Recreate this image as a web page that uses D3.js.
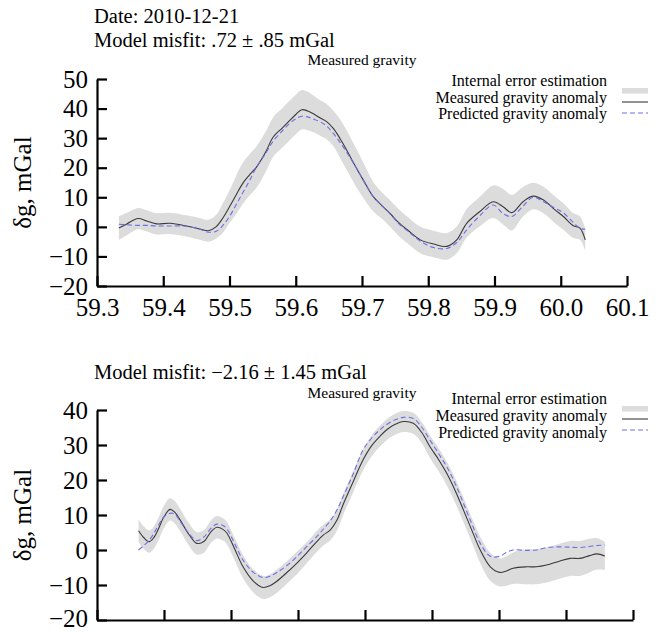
<!DOCTYPE html>
<html>
<head>
<meta charset="utf-8">
<script src="https://cdn.jsdelivr.net/npm/d3@7"></script>
<style>
  body { margin: 0; background: #fff; }
  svg { display: block; font-family: "Liberation Serif", "DejaVu Serif", serif; }
</style>
</head>
<body>
<svg id="chart" width="658" height="632"></svg>
<script>
// ---- data ----

// top profile (2010-12-21)
const topLon = [59.333, 59.345, 59.362, 59.375, 59.39, 59.41, 59.435, 59.455, 59.468, 59.48,
  59.49, 59.50, 59.51, 59.52, 59.53, 59.541, 59.555, 59.566, 59.58, 59.591,
  59.60, 59.609, 59.618, 59.626, 59.637, 59.647, 59.657, 59.667, 59.677, 59.69,
  59.702, 59.717, 59.73, 59.742, 59.755, 59.77, 59.788, 59.808, 59.828, 59.843,
  59.858, 59.878, 59.898, 59.913, 59.926, 59.943, 59.958, 59.974, 59.99, 60.004,
  60.019, 60.029, 60.037];
const topMeasured = [-0.4, 1.0, 2.8, 2.0, 1.0, 1.2, 0.3, -0.7, -1.3, 0.1,
  3.0, 6.8, 10.8, 14.7, 17.5, 20.3, 25.5, 30.4, 33.5, 36.0,
  38.0, 39.6, 39.2, 38.3, 36.8, 35.5, 33.2, 29.8, 25.9, 20.5,
  15.8, 10.2, 7.2, 4.6, 1.5, -1.3, -4.4, -5.8, -6.6, -4.4,
  1.2, 5.2, 8.5, 6.8, 4.8, 8.5, 10.4, 9.1, 6.0, 3.5,
  0.4, -0.4, -4.4];
const topPredicted = [0.9, 0.7, 0.5, 0.5, 0.3, 0.3, 0.2, -0.8, -1.8, -1.5,
  0.5, 3.5, 7.5, 11.5, 15.5, 20.3, 25.0, 29.0, 32.5, 35.0,
  36.5, 37.4, 37.2, 36.5, 35.5, 34.0, 31.5, 28.5, 25.2, 20.5,
  15.8, 10.2, 7.2, 4.5, 1.2, -1.6, -4.8, -7.0, -7.3, -5.3,
  -1.0, 3.8, 7.4, 4.5, 3.5, 7.0, 10.0, 8.5, 6.5, 4.7,
  1.5, -0.5, -0.8];
const topError = [4.0, 3.8, 3.6, 3.6, 3.6, 3.6, 3.6, 3.7, 3.7, 4.0,
  5.0, 5.5, 6.5, 7.0, 7.0, 7.0, 6.8, 6.7, 6.7, 6.7,
  6.7, 6.7, 6.5, 6.2, 6.0, 6.0, 6.0, 6.5, 6.7, 6.5,
  6.0, 5.0, 4.5, 4.5, 4.5, 4.5, 4.5, 4.5, 4.5, 4.5,
  4.8, 5.0, 5.5, 6.0, 6.0, 5.0, 4.5, 4.5, 4.5, 4.5,
  4.2, 4.0, 3.7];

// bottom profile
const botLon = [59.362, 59.37, 59.378, 59.385, 59.391, 59.40, 59.409, 59.416, 59.424, 59.437,
  59.449, 59.46, 59.47, 59.479, 59.488, 59.494, 59.505, 59.518, 59.533, 59.548,
  59.558, 59.568, 59.583, 59.598, 59.613, 59.628, 59.638, 59.648, 59.658, 59.668,
  59.683, 59.697, 59.71, 59.722, 59.732, 59.745, 59.757, 59.772, 59.785, 59.797,
  59.81, 59.822, 59.835, 59.847, 59.86, 59.872, 59.887, 59.901, 59.911, 59.921,
  59.941, 59.956, 59.971, 59.99, 60.006, 60.021, 60.035, 60.046, 60.058];
const botMeasured = [5.5, 3.5, 2.4, 3.6, 5.7, 9.5, 11.6, 10.8, 8.6, 4.5,
  1.9, 2.5, 5.2, 6.5, 5.9, 4.8, 0.5, -4.8, -8.8, -10.7,
  -10.2, -9.0, -6.5, -3.8, -0.8, 2.4, 4.3, 5.7, 8.5, 13.3,
  19.8, 25.7, 29.8, 32.4, 34.3, 35.9, 36.7, 36.2, 33.5, 29.5,
  25.8, 21.9, 16.8, 11.4, 5.4, 0.0, -4.8, -6.4, -6.0, -5.2,
  -4.8, -4.8, -4.3, -3.2, -2.4, -2.4, -1.6, -1.1, -1.7];
const botPredicted = [0.0, 1.3, 2.8, 4.8, 6.8, 9.5, 10.5, 10.3, 8.2, 4.8,
  2.7, 3.8, 6.2, 7.4, 7.0, 6.0, 2.0, -2.9, -6.3, -7.9,
  -7.5, -6.5, -4.5, -2.0, 1.0, 3.8, 6.0, 8.3, 11.4, 15.5,
  22.0, 28.6, 32.0, 34.3, 35.8, 37.2, 37.9, 37.6, 35.0, 31.4,
  27.5, 23.8, 18.8, 13.3, 7.2, 1.9, -1.8, -1.8, -0.7, 0.0,
  -0.1, 0.0, 0.7, 0.9, 0.8, 0.7, 1.0, 1.3, 1.4];
const botError = [3.2, 3.2, 3.2, 3.2, 3.2, 3.2, 3.2, 3.2, 3.2, 3.2,
  3.2, 3.2, 3.2, 3.2, 3.2, 3.2, 3.2, 3.3, 3.3, 3.3,
  3.3, 3.3, 3.2, 3.2, 3.0, 3.0, 3.0, 3.0, 3.0, 3.0,
  3.0, 3.0, 3.0, 3.0, 3.0, 3.0, 3.0, 3.0, 3.0, 3.2,
  3.3, 3.4, 3.5, 3.5, 3.5, 3.8, 4.0, 4.0, 4.2, 4.5,
  5.0, 5.0, 5.0, 5.0, 5.0, 5.0, 4.8, 4.5, 4.0];

const xTicks = [59.3, 59.4, 59.5, 59.6, 59.7, 59.8, 59.9, 60.0, 60.1];
const topYTicks = [-20, -10, 0, 10, 20, 30, 40, 50];
const botYTicks = [-20, -10, 0, 10, 20, 30, 40];

const legendLabels = ["Internal error estimation", "Measured gravity anomaly", "Predicted gravity anomaly"];

const svg = d3.select('#chart');

// formats a signed number with a real minus sign
const fmtY = d => d < 0 ? '\u2212' + Math.abs(d) : String(d);

/*
  Draws one panel: error band, measured line, predicted dashed line,
  the inward-ticked axes and the little legend in the top right.
*/
function drawPanel(opt) {
  const x = d3.scaleLinear().domain([59.3, 60.1]).range(opt.xRange);
  const y = d3.scaleLinear().domain(opt.yDomain).range(opt.yRange);
  const idx = d3.range(opt.lon.length);
  const g = svg.append('g');

  // error band around measured values
  g.append('path')
    .attr('d', d3.area()
      .curve(d3.curveCatmullRom)
      .x(i => x(opt.lon[i]))
      .y0(i => y(opt.measured[i] - opt.error[i]))
      .y1(i => y(opt.measured[i] + opt.error[i]))(idx))
    .attr('fill', '#dcdcdc');

  const line = vals => d3.line()
    .curve(d3.curveCatmullRom)
    .x(i => x(opt.lon[i]))
    .y(i => y(vals[i]))(idx);

  g.append('path')
    .attr('d', line(opt.measured))
    .attr('fill', 'none')
    .attr('stroke', '#3a3a3a')
    .attr('stroke-width', 1.1);

  g.append('path')
    .attr('d', line(opt.predicted))
    .attr('fill', 'none')
    .attr('stroke', '#6e6ee6')
    .attr('stroke-width', 1.1)
    .attr('stroke-dasharray', '5,3');

  // axes, ticks point inwards
  const xAxis = d3.axisBottom(x)
    .tickValues(xTicks)
    .tickSize(-10)
    .tickSizeOuter(0)
    .tickPadding(12)
    .tickFormat(opt.xLabels ? d3.format('.1f') : '');
  const gx = g.append('g')
    .attr('transform', `translate(0,${opt.yRange[0]})`)
    .call(xAxis);

  const yAxis = d3.axisLeft(y)
    .tickValues(opt.yTicks)
    .tickSize(-10)
    .tickSizeOuter(0)
    .tickPadding(9)
    .tickFormat(fmtY);
  const gy = g.append('g')
    .attr('transform', `translate(${opt.xRange[0]},0)`)
    .call(yAxis);

  [gx, gy].forEach(a => {
    a.selectAll('path.domain, line').attr('stroke', '#000').attr('stroke-width', 2.2);
    a.selectAll('text')
      .attr('fill', '#000')
      .style('font-family', '"Liberation Serif", serif')
      .style('font-size', '25px');
  });
  gy.selectAll('text').attr('dy', '0.33em');
  // lowest label of the bottom panel sits right on the page edge
  if (opt.lowLabelDy) {
    gy.selectAll('.tick').filter(d => d === opt.yDomain[0])
      .select('text').attr('dy', opt.lowLabelDy);
  }

  // axis title
  const yMid = (opt.yRange[0] + opt.yRange[1]) / 2;
  g.append('text')
    .attr('transform', `translate(31,${yMid}) rotate(-90)`)
    .attr('text-anchor', 'middle')
    .style('font-size', '25px')
    .text('\u03b4g, mGal');

  // header lines
  opt.header.forEach((t, i) => {
    g.append('text')
      .attr('x', 94)
      .attr('y', opt.headerY[i])
      .style('font-size', '20.5px')
      .text(t);
  });

  g.append('text')
    .attr('x', 362)
    .attr('y', opt.subtitleY)
    .attr('text-anchor', 'middle')
    .style('font-size', '15.5px')
    .text('Measured gravity');

  // legend
  legendLabels.forEach((t, i) => {
    g.append('text')
      .attr('x', 607)
      .attr('y', opt.legendY[i])
      .attr('text-anchor', 'end')
      .style('font-size', '16px')
      .text(t);
  });
  g.append('rect')
    .attr('x', 622).attr('y', opt.symbolY[0] - 2.8)
    .attr('width', 26).attr('height', 5.6)
    .attr('fill', '#dcdcdc');
  g.append('line')
    .attr('x1', 622).attr('x2', 648)
    .attr('y1', opt.symbolY[1]).attr('y2', opt.symbolY[1])
    .attr('stroke', '#3a3a3a').attr('stroke-width', 1.1);
  g.append('line')
    .attr('x1', 622).attr('x2', 648)
    .attr('y1', opt.symbolY[2]).attr('y2', opt.symbolY[2])
    .attr('stroke', '#6e6ee6').attr('stroke-width', 1.1)
    .attr('stroke-dasharray', '5,3');
}

drawPanel({
  lon: topLon, measured: topMeasured, predicted: topPredicted, error: topError,
  xRange: [97, 627], yDomain: [-20, 50], yRange: [286, 79], yTicks: topYTicks,
  xLabels: true,
  header: ['Date: 2010-12-21', 'Model misfit: .72 \u00b1 .85 mGal'],
  headerY: [22.5, 46.5],
  subtitleY: 65,
  legendY: [86, 102.5, 119],
  symbolY: [90.8, 102, 113]
});

drawPanel({
  lon: botLon, measured: botMeasured, predicted: botPredicted, error: botError,
  xRange: [97, 633], yDomain: [-20, 40], yRange: [620, 410], yTicks: botYTicks,
  xLabels: false,
  lowLabelDy: '0.24em',
  header: ['Model misfit: \u22122.16 \u00b1 1.45 mGal'],
  headerY: [379],
  subtitleY: 398,
  legendY: [403.5, 420.5, 437.5],
  symbolY: [408.8, 419, 430]
});
</script>
</body>
</html>
